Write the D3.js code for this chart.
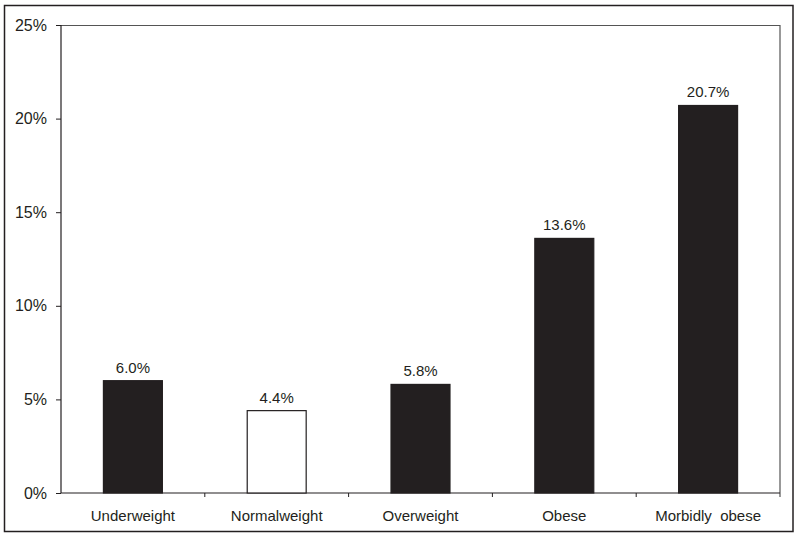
<!DOCTYPE html>
<html>
<head>
<meta charset="utf-8">
<script src="https://cdn.jsdelivr.net/npm/d3@7"></script>
<style>
  body { margin: 0; background: #fff; }
  text { font-family: "Liberation Sans", Arial, sans-serif; fill: #231f20; }
</style>
</head>
<body>
<div id="chart"></div>
<script>
// data
const categories = ["Underweight", "Normalweight", "Overweight", "Obese", "Morbidly  obese"];
const values = [6.0, 4.4, 5.8, 13.6, 20.7];
const fills = ["#231f20", "#ffffff", "#231f20", "#231f20", "#231f20"];
const yTicks = [0, 5, 10, 15, 20, 25];

const W = 800, H = 537;
const margin = {top: 25, right: 20, bottom: 44, left: 61};
const width = W - margin.left - margin.right;
const height = H - margin.top - margin.bottom;

const svg = d3.select("#chart")
    .append("svg")
    .attr("width", W)
    .attr("height", H);

// outer frame
svg.append("rect")
    .attr("x", 4.5).attr("y", 5.5)
    .attr("width", 788.5).attr("height", 526)
    .attr("fill", "none")
    .attr("stroke", "#231f20")
    .attr("stroke-width", 1.5);

const g = svg.append("g")
    .attr("transform", `translate(${margin.left},${margin.top})`);

const x = d3.scaleBand()
    .domain(categories)
    .range([0, width])
    .paddingInner(0.59)
    .paddingOuter(0.295);

const y = d3.scaleLinear().domain([0, 25]).range([height, 0]);

// plot frame top + right
g.append("path")
    .attr("d", `M0,0.5H${width}V${height + 4}`)
    .attr("fill", "none")
    .attr("stroke", "#555")
    .attr("stroke-width", 1.2);

// y axis
const yAxis = d3.axisLeft(y)
    .tickValues(yTicks)
    .tickSize(5)
    .tickPadding(9)
    .tickFormat(d => d + "%");
const yg = g.append("g").call(yAxis);
yg.select(".domain").attr("stroke", "#231f20").attr("stroke-width", 1.2)
    .attr("d", `M0,${height}V0`);
yg.selectAll(".tick line").attr("stroke", "#231f20");
yg.selectAll(".tick text").style("font-size", "16px").attr("fill", "#231f20");

// x axis: ticks between categories
const step = x.step();
const xg = g.append("g").attr("transform", `translate(0,${height})`);
xg.append("line")
    .attr("x1", 0).attr("x2", width)
    .attr("stroke", "#231f20").attr("stroke-width", 1.2);
xg.selectAll(".sep")
    .data(d3.range(1, categories.length))
    .join("line")
    .attr("class", "sep")
    .attr("x1", i => i * step).attr("x2", i => i * step)
    .attr("y1", 0).attr("y2", 4)
    .attr("stroke", "#231f20");
xg.selectAll(".lab")
    .data(categories)
    .join("text")
    .attr("class", "lab")
    .attr("x", d => x(d) + x.bandwidth() / 2)
    .attr("y", 28)
    .attr("text-anchor", "middle")
    .style("font-size", "15px")
    .style("white-space", "pre")
    .text(d => d);

// bars
const data = categories.map((c, i) => ({cat: c, value: values[i], fill: fills[i]}));
g.selectAll(".bar")
    .data(data)
    .join("rect")
    .attr("class", "bar")
    .attr("x", d => x(d.cat))
    .attr("y", d => y(d.value))
    .attr("width", x.bandwidth())
    .attr("height", d => height - y(d.value))
    .attr("fill", d => d.fill)
    .attr("stroke", "#231f20")
    .attr("stroke-width", 1.2);

// value labels
g.selectAll(".val")
    .data(data)
    .join("text")
    .attr("class", "val")
    .attr("x", d => x(d.cat) + x.bandwidth() / 2)
    .attr("y", d => y(d.value) - 8)
    .attr("text-anchor", "middle")
    .style("font-size", "15px")
    .text(d => d.value.toFixed(1) + "%");
</script>
</body>
</html>
